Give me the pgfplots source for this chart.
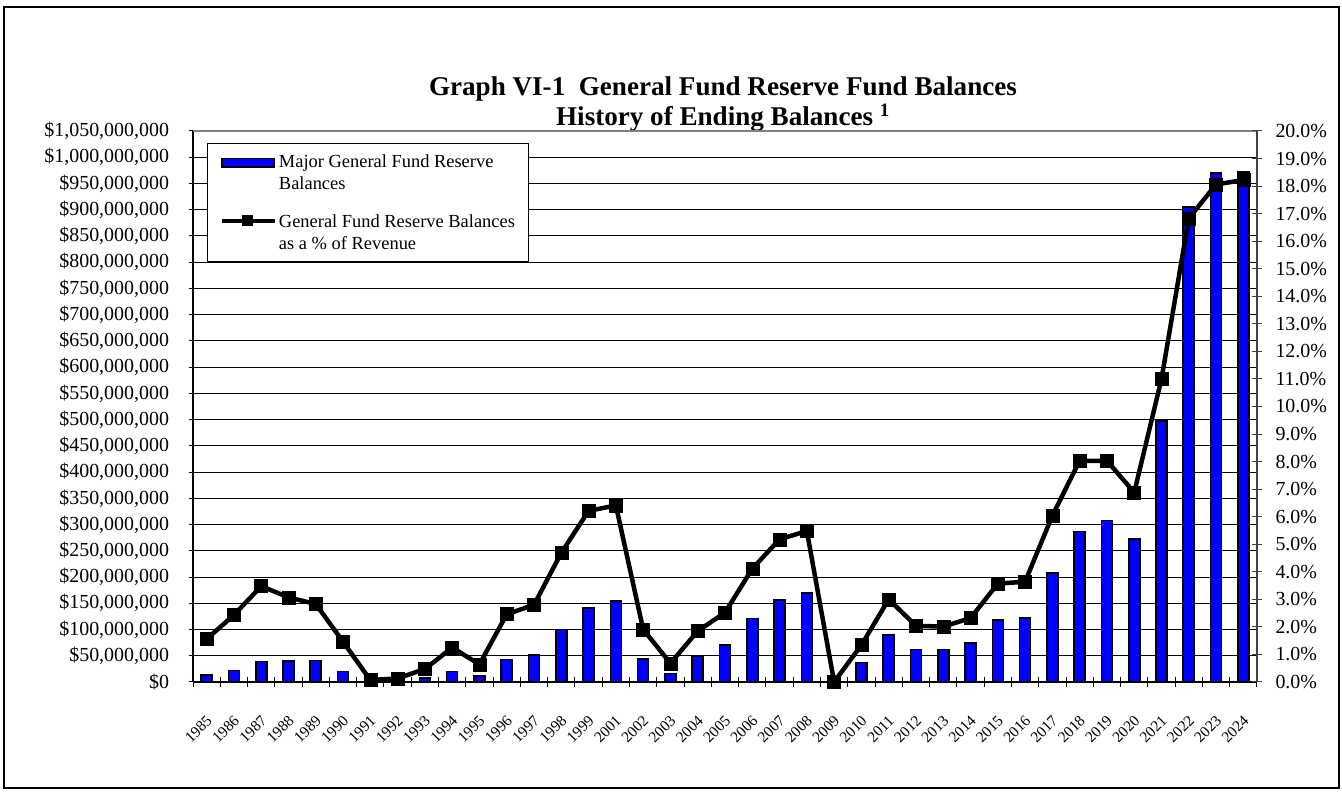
\documentclass[border=0pt]{standalone}
\usepackage{fontspec}
\setmainfont{Liberation Serif}
\usepackage{pgfplots}
\pgfplotsset{compat=1.18}
\usepackage{pgfplotstable}

\pgfplotstableread{
idx year bal pct
0  1985 13  1.56
1  1986 22  2.43
2  1987 39  3.48
3  1988 40  3.07
4  1989 41  2.83
5  1990 20  1.46
6  1991 0.5 0.07
7  1992 0.5 0.13
8  1993 8   0.47
9  1994 20  1.25
10 1995 11  0.64
11 1996 43  2.46
12 1997 51  2.80
13 1998 100 4.69
14 1999 141 6.21
15 2001 154 6.41
16 2002 44  1.91
17 2003 16  0.68
18 2004 50  1.85
19 2005 70  2.52
20 2006 121 4.11
21 2007 156 5.18
22 2008 170 5.48
23 2009 0   0.00
24 2010 37  1.34
25 2011 89  3.00
26 2012 62  2.04
27 2013 62  2.01
28 2014 74  2.32
29 2015 118 3.57
30 2016 122 3.64
31 2017 208 6.04
32 2018 287 8.03
33 2019 308 8.03
34 2020 272 6.88
35 2021 497 11.00
36 2022 905 16.83
37 2023 970 18.06
38 2024 972 18.22
}\datatable

\begin{document}
\begin{tikzpicture}[x=1bp,y=1bp]
\useasboundingbox (0,0) rectangle (1342,794);
\draw[black, line width=1.2bp] (4,6) rectangle (1339,787);
\node[align=center, font=\bfseries\fontsize{27.2}{30}\selectfont] at (723,690)
  {Graph VI-1\ \ General Fund Reserve Fund Balances\\History of Ending Balances \textsuperscript{1}};

\begin{axis}[at={(193bp,112bp)}, anchor=south west, scale only axis,
  width=1064bp, height=551bp,
  xmin=-0.5, xmax=38.5, ymin=0, ymax=1050,
  axis x line*=bottom, axis y line*=left,
  axis line style={black, line width=1.5bp},
  ytick={0,50,...,1050},
  yticklabels={{\$0},{\$50,000,000},{\$100,000,000},{\$150,000,000},{\$200,000,000},{\$250,000,000},{\$300,000,000},{\$350,000,000},{\$400,000,000},{\$450,000,000},{\$500,000,000},{\$550,000,000},{\$600,000,000},{\$650,000,000},{\$700,000,000},{\$750,000,000},{\$800,000,000},{\$850,000,000},{\$900,000,000},{\$950,000,000},{\$1,000,000,000},{\$1,050,000,000}},
  yticklabel style={font=\fontsize{20}{24}\selectfont, xshift=-16bp},
  xtick={0,...,38},
  xticklabels={1985,1986,1987,1988,1989,1990,1991,1992,1993,1994,1995,1996,1997,1998,1999,2001,2002,2003,2004,2005,2006,2007,2008,2009,2010,2011,2012,2013,2014,2015,2016,2017,2018,2019,2020,2021,2022,2023,2024},
  xticklabel style={font=\fontsize{15.5}{18}\selectfont, yshift=-23bp, xshift=-1bp, rotate=45, anchor=north east},
  minor xtick={-0.5,0.5,...,38.5},
  major x tick style={draw=none},
  tick align=center, major tick length=9bp, minor tick length=10bp,
  tick style={black, line width=1bp},
  ymajorgrids, grid style={black, line width=0.9bp},
  bar width=11bp,
]
\addplot[ybar, fill=blue, draw=black, line width=1.6bp] table[x=idx,y=bal]{\datatable};
\draw[gray, line width=1.2bp] (rel axis cs:0,1) -- (rel axis cs:1,1);
\end{axis}

\begin{axis}[at={(193bp,112bp)}, anchor=south west, scale only axis,
  width=1064bp, height=551bp,
  xmin=-0.5, xmax=38.5, ymin=0, ymax=20,
  axis x line=none, axis y line*=right,
  axis line style={black!75, line width=1.5bp},
  ytick={0,...,20},
  yticklabels={{0.0\%},{1.0\%},{2.0\%},{3.0\%},{4.0\%},{5.0\%},{6.0\%},{7.0\%},{8.0\%},{9.0\%},{10.0\%},{11.0\%},{12.0\%},{13.0\%},{14.0\%},{15.0\%},{16.0\%},{17.0\%},{18.0\%},{19.0\%},{20.0\%}},
  yticklabel style={font=\fontsize{20}{24}\selectfont, xshift=10bp},
  tick align=center, major tick length=10bp,
  tick style={black!75, line width=1bp},
  clip=false,
  legend style={at={(0.01316,0.9782)}, anchor=north west, draw=black, line width=1bp,
    font=\fontsize{18.5}{22}\selectfont, cells={anchor=west, align=left},
    inner xsep=12bp, inner ysep=9bp, row sep=20bp},
]
\addlegendimage{legend image code/.code={\draw[fill=blue, draw=black, line width=1.5bp] (0bp,5.5bp) rectangle (52bp,14bp);}}
\addlegendentry{Major General Fund Reserve\\Balances}
\addlegendimage{legend image code/.code={\draw[black, line width=4.5bp] (0bp,12bp) -- (53bp,12bp); \fill[black] (21bp,7bp) rectangle (31bp,17bp);}}
\addlegendentry{General Fund Reserve Balances\\as a \% of Revenue}
\addplot[black, line width=4.5bp, mark=square*, mark size=6.5bp, mark options={solid, line width=0.5bp}] table[x=idx,y=pct]{\datatable};
\end{axis}
\end{tikzpicture}
\end{document}
